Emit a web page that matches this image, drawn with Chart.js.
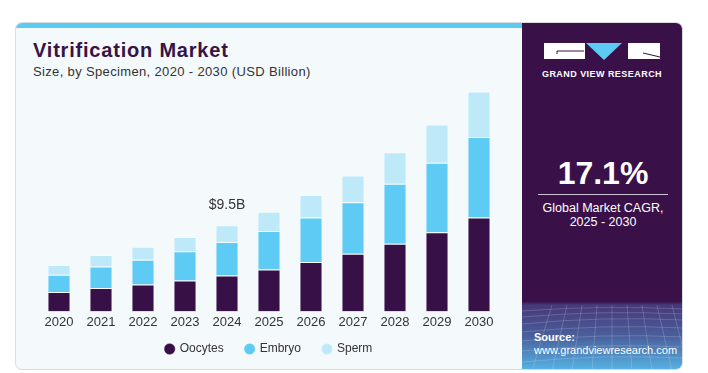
<!DOCTYPE html>
<html>
<head>
<meta charset="utf-8">
<script src="https://cdn.jsdelivr.net/npm/chart.js@4.4.0/dist/chart.umd.min.js"></script>
<style>
  html, body { margin: 0; padding: 0; background: #ffffff; }
  body { width: 708px; height: 373px; position: relative; overflow: hidden; font-family: "Liberation Sans", Arial, sans-serif; }
  #card { position: absolute; left: 15px; top: 22px; width: 668px; height: 348px; background: #f4f9fc;
          border: 1px solid #d9dde0; border-radius: 7px; overflow: hidden; box-sizing: border-box; }
  #strip { position: absolute; left: 0; top: 0; width: 506px; height: 5px; background: #5ccbf4; }
  #side { position: absolute; left: 506px; top: 0; width: 162px; height: 348px;
          background: linear-gradient(180deg, #391048 0%, #391048 80%, #47387a 81%, #4a5f9c 90%, #56b5e6 100%); }
  #title { position: absolute; left: 17px; top: 16px; font-size: 20px; font-weight: 700; color: #381248; letter-spacing: 0.8px; }
  #subtitle { position: absolute; left: 17px; top: 41px; font-size: 13px; color: #333; letter-spacing: 0.35px; }
  #chartbox { position: absolute; left: 15px; top: 52px; width: 476px; height: 290px; }
  .w { color: #fff; position: absolute; }
</style>
</head>
<body>
<div id="card">
  <div id="strip"></div>
  <div id="title">Vitrification Market</div>
  <div id="subtitle">Size, by Specimen, 2020 - 2030 (USD Billion)</div>
  <div id="chartbox"><canvas id="c" width="476" height="290"></canvas></div>
  <div id="side">
    <svg width="162" height="348" style="position:absolute;left:0;top:0">
      <rect x="22" y="20" width="41" height="16" fill="#fff"/>
      <polyline points="35,31 35,28 62,28" fill="none" stroke="#391048" stroke-width="1"/>
      <polygon points="64,20 100,20 82,37" fill="#5ccbf4"/>
      <rect x="106" y="20" width="32" height="16" fill="#fff"/>
      <line x1="121" y1="30" x2="138" y2="34" stroke="#391048" stroke-width="1"/>
      <text x="80" y="54" text-anchor="middle" fill="#fff" font-size="9" font-weight="700" letter-spacing="0.45" font-family="Liberation Sans, Arial">GRAND VIEW RESEARCH</text>
      <g stroke="#ffffff" stroke-opacity="0.22" stroke-width="0.8" fill="none">
        <path d="M0,288 Q80,282 162,286"/>
        <path d="M0,294 Q80,287 162,291"/>
        <path d="M0,301 Q80,293 162,297"/>
        <path d="M0,309 Q80,301 162,305"/>
        <path d="M0,318 Q80,310 162,314"/>
        <path d="M0,328 Q80,320 162,324"/>
        <path d="M0,339 Q80,331 162,335"/>
        <path d="M10,348 L30,282"/><path d="M30,348 L45,282"/><path d="M50,348 L60,282"/>
        <path d="M70,348 L75,282"/><path d="M90,348 L90,282"/><path d="M110,348 L105,282"/>
        <path d="M130,348 L120,282"/><path d="M150,348 L135,282"/><path d="M162,330 L150,282"/>
      </g>
    </svg>
    <div class="w" style="left:0;width:162px;top:132px;text-align:center;font-size:32px;font-weight:700;">17.1%</div>
    <div style="position:absolute;left:16px;top:171px;width:130px;height:1px;background:#c9c3d2;"></div>
    <div class="w" style="left:0;width:162px;top:178px;text-align:center;font-size:12.5px;line-height:14px;">Global Market CAGR,<br>2025 - 2030</div>
    <div class="w" style="left:12px;top:308px;font-size:11px;font-weight:700;">Source:</div>
    <div class="w" style="left:12px;top:321px;font-size:11px;">www.grandviewresearch.com</div>
  </div>
</div>
<script>
const years = ['2020', '2021', '2022', '2023', '2024', '2025', '2026', '2027', '2028', '2029', '2030'];
const oocytes = [2.15, 2.59, 2.98, 3.42, 3.96, 4.62, 5.46, 6.37, 7.46, 8.74, 10.37];
const embryo  = [1.89, 2.36, 2.73, 3.21, 3.71, 4.26, 4.91, 5.68, 6.63, 7.68, 8.88];
const sperm   = [1.09, 1.28, 1.42, 1.59, 1.83, 2.12, 2.48, 2.95, 3.49, 4.23, 5.02];
const calloutIndex = 4;
const calloutText = '$9.5B';

const calloutPlugin = {
    id: 'callout',
    afterDatasetsDraw(chart) {
        var total = oocytes[calloutIndex] + embryo[calloutIndex] + sperm[calloutIndex];
        var x = chart.scales.x.getPixelForValue(calloutIndex);
        var y = chart.scales.y.getPixelForValue(total);
        var ctx = chart.ctx;
        ctx.save();
        ctx.fillStyle = '#333333';
        ctx.font = '14px "Liberation Sans", Arial, sans-serif';
        ctx.textAlign = 'center';
        ctx.textBaseline = 'middle';
        ctx.fillText(calloutText, x, y - 20);
        ctx.restore();
    }
};

const barStyle = { borderWidth: 1, borderColor: 'rgba(255,255,255,0.35)', barPercentage: 0.55, categoryPercentage: 1.0 };

// trailing em space widens the gap between legend items without adding legend height
new Chart(document.getElementById('c'), {
    type: 'bar',
    data: {
        labels: years,
        datasets: [
            Object.assign({ label: 'Oocytes\u2003', data: oocytes, backgroundColor: '#381048' }, barStyle),
            Object.assign({ label: 'Embryo\u2003', data: embryo, backgroundColor: '#5ecbf5' }, barStyle),
            Object.assign({ label: 'Sperm', data: sperm, backgroundColor: '#bde9f9' }, barStyle)
        ]
    },
    options: {
        responsive: false,
        animation: false,
        layout: { padding: { left: 7, right: 7, top: 10, bottom: 0 } },
        scales: {
            x: {
                stacked: true,
                grid: { display: false, drawTicks: false },
                border: { display: false },
                ticks: { color: '#333333', font: { size: 13, family: '"Liberation Sans", Arial, sans-serif' }, padding: 3 }
            },
            y: { stacked: true, display: false, min: 0, max: 25 }
        },
        plugins: {
            legend: {
                position: 'bottom',
                labels: {
                    usePointStyle: true, pointStyle: 'circle', boxWidth: 8, boxHeight: 8,
                    color: '#333333', padding: 10,
                    font: { size: 12, family: '"Liberation Sans", Arial, sans-serif' }
                }
            },
            tooltip: { enabled: false }
        }
    },
    plugins: [calloutPlugin]
});
</script>
</body>
</html>
